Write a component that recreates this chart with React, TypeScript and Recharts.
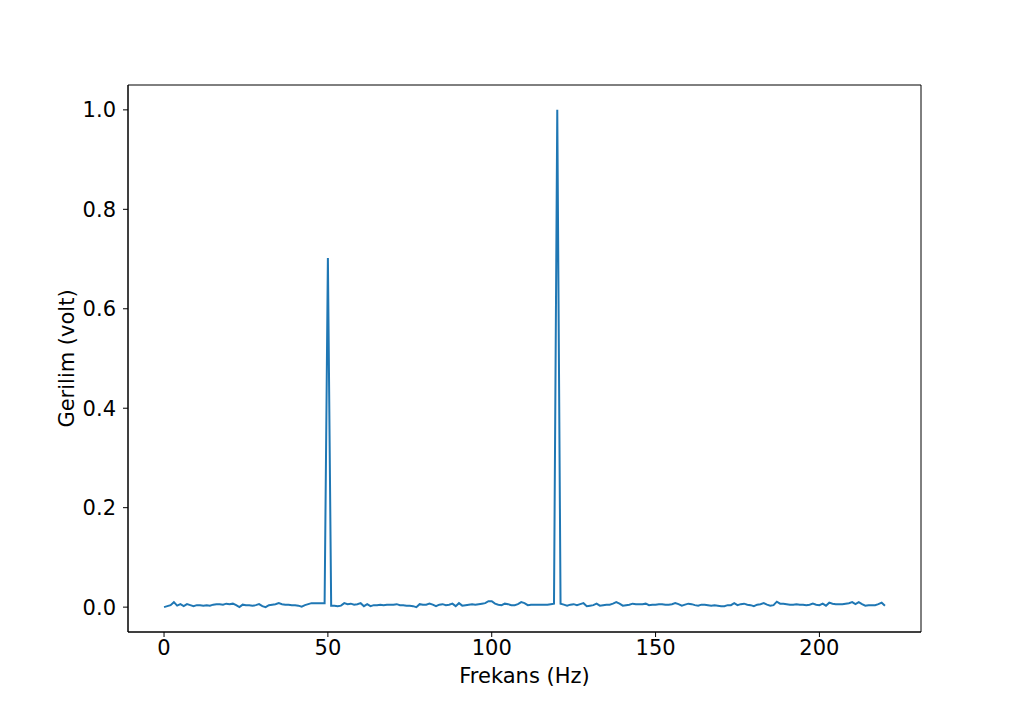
import { LineChart, Line, XAxis, YAxis, ReferenceArea } from "recharts";

// spectrum magnitude, 1 Hz steps from 0 to 220 Hz
const voltages = [
  0.000, 0.002, 0.004, 0.010, 0.003, 0.006, 0.002, 0.006, 0.004, 0.002,
  0.004, 0.004, 0.003, 0.004, 0.003, 0.005, 0.006, 0.006, 0.005, 0.007,
  0.006, 0.007, 0.004, 0.000, 0.005, 0.004, 0.004, 0.003, 0.004, 0.006,
  0.002, 0.000, 0.004, 0.005, 0.006, 0.008, 0.006, 0.005, 0.005, 0.004,
  0.004, 0.003, 0.001, 0.004, 0.006, 0.008, 0.008, 0.008, 0.008, 0.008,
  0.702,
  0.003, 0.003, 0.002, 0.003, 0.008, 0.006, 0.007, 0.005, 0.006, 0.008,
  0.002, 0.006, 0.002, 0.004, 0.004, 0.005, 0.004, 0.005, 0.005, 0.005,
  0.006, 0.004, 0.004, 0.003, 0.003, 0.002, 0.000, 0.006, 0.005, 0.005,
  0.007, 0.005, 0.002, 0.005, 0.006, 0.004, 0.005, 0.007, 0.002, 0.008,
  0.003, 0.004, 0.005, 0.006, 0.005, 0.006, 0.007, 0.008, 0.012, 0.012,
  0.007, 0.005, 0.004, 0.007, 0.006, 0.004, 0.004, 0.006, 0.010, 0.008,
  0.004, 0.005, 0.005, 0.005, 0.005, 0.005, 0.005, 0.006, 0.007,
  1.000,
  0.007, 0.005, 0.003, 0.005, 0.006, 0.004, 0.006, 0.008, 0.002, 0.003,
  0.004, 0.007, 0.003, 0.004, 0.005, 0.005, 0.007, 0.010, 0.007, 0.003,
  0.004, 0.005, 0.007, 0.006, 0.006, 0.006, 0.007, 0.004, 0.005, 0.005,
  0.006, 0.006, 0.005, 0.005, 0.006, 0.008, 0.006, 0.003, 0.005, 0.007,
  0.006, 0.004, 0.003, 0.005, 0.005, 0.004, 0.003, 0.004, 0.003, 0.002,
  0.002, 0.004, 0.004, 0.008, 0.004, 0.006, 0.007, 0.005, 0.004, 0.002,
  0.005, 0.006, 0.008, 0.005, 0.003, 0.004, 0.011, 0.007, 0.007, 0.006,
  0.005, 0.005, 0.006, 0.005, 0.005, 0.004, 0.005, 0.007, 0.005, 0.004,
  0.007, 0.003, 0.009, 0.007, 0.006, 0.006, 0.006, 0.007, 0.008, 0.010,
  0.006, 0.010, 0.006, 0.003, 0.004, 0.004, 0.004, 0.006, 0.009, 0.003,
];
const frequencies = voltages.map((_, i) => i);

const xTicks = [0, 50, 100, 150, 200];
const yTicks = [0, 0.2, 0.4, 0.6, 0.8, 1.0];
const xDomain = [-11, 231];
const yDomain = [-0.05, 1.05];

const data = frequencies.map((f, i) => ({ freq: f, volt: voltages[i] }));

const font = "DejaVu Sans, sans-serif";
const tickStyle = { fill: "#000", fontSize: 21, fontFamily: font };

export default function App() {
  return (
    <div style={{ position: "absolute", left: 0, top: 0, background: "#fff" }}>
      <LineChart
        width={1024}
        height={710}
        data={data}
        margin={{ top: 85, right: 103, bottom: 18, left: 48 }}
      >
        <XAxis
          dataKey="freq"
          type="number"
          domain={xDomain}
          ticks={xTicks}
          allowDataOverflow
          height={60}
          stroke="#000"
          tick={tickStyle}
          tickSize={5}
          tickMargin={3}
          label={{
            value: "Frekans (Hz)",
            position: "center",
            dy: 14,
            style: { fill: "#000", fontSize: 21, fontFamily: font },
          }}
        />
        <YAxis
          type="number"
          domain={yDomain}
          ticks={yTicks}
          allowDataOverflow
          width={80}
          stroke="#000"
          tick={tickStyle}
          tickSize={5}
          tickMargin={7}
          tickFormatter={(v: number) => v.toFixed(1)}
          label={{
            value: "Gerilim (volt)",
            angle: -90,
            position: "center",
            dx: -21,
            style: { fill: "#000", fontSize: 21, fontFamily: font, textAnchor: "middle" },
          }}
        />
        <ReferenceArea
          x1={xDomain[0]}
          x2={xDomain[1]}
          y1={yDomain[0]}
          y2={yDomain[1]}
          fill="none"
          stroke="#000"
          strokeWidth={1}
          ifOverflow="visible"
        />
        <Line
          type="linear"
          dataKey="volt"
          stroke="#1f77b4"
          strokeWidth={2}
          dot={false}
          isAnimationActive={false}
        />
      </LineChart>
    </div>
  );
}
